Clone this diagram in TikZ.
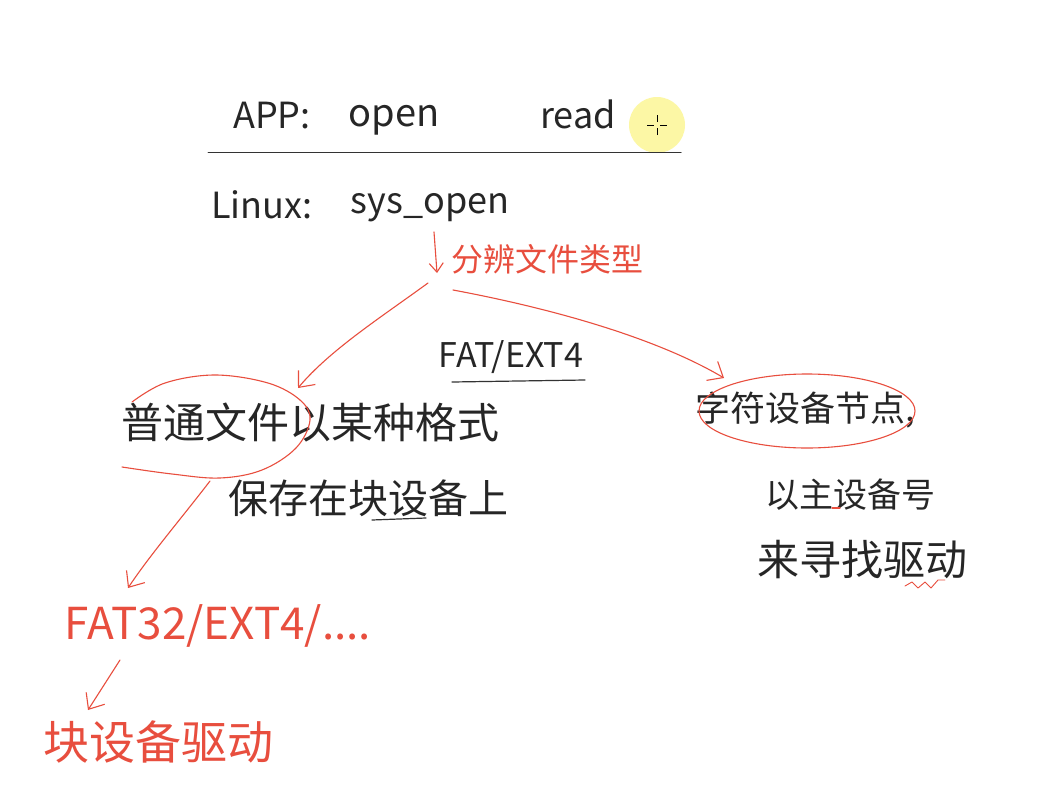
\documentclass[tikz,border=0pt]{standalone}
\usepackage{fontspec}
\setmainfont{Noto Sans CJK SC}
\usetikzlibrary{arrows.meta}
\definecolor{hred}{RGB}{232,78,62}
\definecolor{hyel}{RGB}{252,246,150}
\tikzset{
  txt/.style={inner sep=0pt, text=black!85},
  rtxt/.style={inner sep=0pt, text=hred},
  rline/.style={draw=hred, line width=1.1pt, line cap=round, line join=round},
  barb/.style={-{Straight Barb[length=13pt,width=22pt,line width=1.1pt]}},
  bline/.style={draw=black!80, line width=1.2pt, line cap=round},
}
\newcommand{\fsz}[1]{\fontsize{#1}{#1}\selectfont}
\begin{document}
\begin{tikzpicture}[x=1pt,y=-1pt]
\useasboundingbox (0,0) rectangle (1059,808);
\fill[white] (0,0) rectangle (1059,808);
% top
\node[txt, font=\fsz{36}] (app) at (272,116) {APP:};
\node[txt, font=\fsz{38}] (open) at (394,120) {open};
\node[txt, font=\fsz{36}] (read) at (578,114) {read};
\fill[hyel, opacity=0.85] (657,125) circle (28);
\coordinate (cur) at (657,125);
\draw[black, line width=0.8pt] ([xshift=-10]cur) -- ([xshift=-3]cur) ([xshift=3]cur) -- ([xshift=10]cur)
  ([yshift=-10]cur) -- ([yshift=-3]cur) ([yshift=3]cur) -- ([yshift=10]cur);
\coordinate (sepL) at (208,152);
\coordinate (sepR) at (681,152);
\draw[bline, line width=1pt] (sepL) -- (sepR);
\node[txt, font=\fsz{36}] (linux) at (262,205) {Linux:};
\node[txt, font=\fsz{36}] (sys) at (430,208) {sys\_open};
% type split
\coordinate (dTop) at (434,232);
\coordinate (dBot) at (437,273);
\draw[rline, -{Straight Barb[length=9pt,width=14pt,line width=1.1pt]}] (dTop) -- (dBot);
\node[rtxt, font=\fsz{32}] (type) at (547,259) {分辨文件类型};
% left branch
\coordinate (lS) at (428,283);
\coordinate (lE) at (298,388);
\draw[rline, barb] (lS) .. controls (380,318) and (330,350) .. (lE);
% right branch
\coordinate (rS) at (453,290);
\coordinate (rE) at (724,378);
\draw[rline, barb] (rS) .. controls (560,310) and (660,340) .. (rE);
% FAT/EXT4
\node[txt, font=\fsz{34}] (fat) at (511,357) {FAT/EXT4};
\coordinate (fuL) at (452,382);
\coordinate (fuR) at (585,380);
\draw[bline] (fuL) -- (fuR);
% regular file text
\node[txt, font=\fsz{42}] (plain1) at (310,423) {普通文件以某种格式};
\node[txt, font=\fsz{40}] (plain2) at (368,498) {保存在块设备上};
\coordinate (uL) at (372,520);
\coordinate (uR) at (426,518);
\draw[bline] (uL) -- (uR);
% left loop
\draw[rline] plot[smooth, tension=0.6] coordinates {(132,402) (165,383) (215,375) (268,383) (300,400) (310,420) (296,448) (262,470) (220,478) (172,474) (122,467)};
% arrow to FAT32
\coordinate (fS) at (210,481);
\coordinate (fE) at (128,588);
\draw[rline, barb] (fS) .. controls (180,520) and (150,555) .. (fE);
\node[rtxt, font=\fsz{44}] (fs) at (218,626) {FAT32/EXT4/....};
\coordinate (bS) at (120,660);
\coordinate (bE) at (88,710);
\draw[rline, barb] (bS) -- (bE);
\node[rtxt, font=\fsz{46}] (blkdrv) at (158,742) {块设备驱动};
% right side
\node[txt, font=\fsz{35}] (chr) at (805,410) {字符设备节点,};
\draw[rline] (807,411) ellipse [x radius=108, y radius=37];
\node[txt, font=\fsz{34}] (major) at (850,495) {以主设备号};
\coordinate (mL) at (832,508);
\coordinate (mR) at (840,508);
\draw[rline] (mL) -- (mR);
\node[txt, font=\fsz{42}] (find) at (862,560) {来寻找驱动};
\coordinate (wL) at (905,586);
\coordinate (wR) at (945,580);
\draw[rline, line width=0.9pt] (wL) -- (912,582) -- (918,588) -- (925,582) -- (931,588) -- (938,580) -- (wR);
\end{tikzpicture}
\end{document}
